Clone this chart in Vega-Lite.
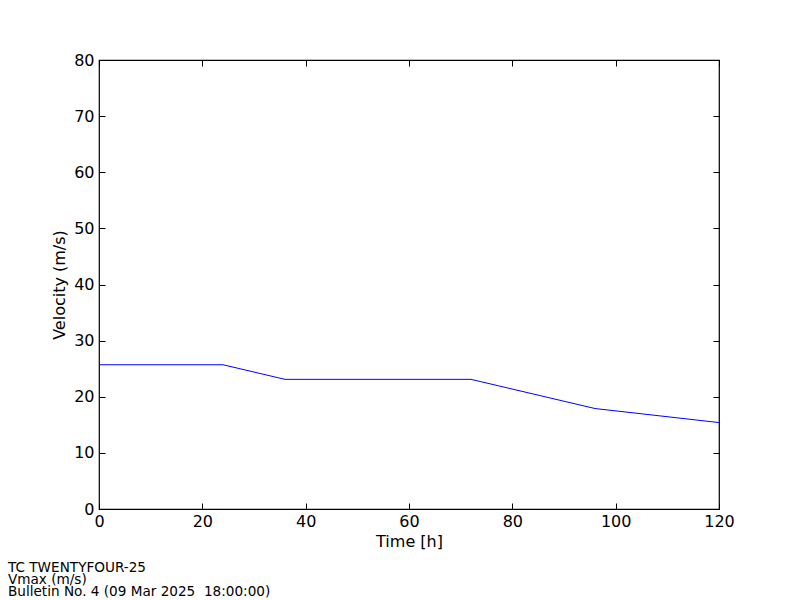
{
  "$schema": "https://vega.github.io/schema/vega-lite/v6.json",
  "width": 620,
  "height": 449,
  "autosize": {"type": "none"},
  "padding": {"left": 99, "top": 60, "right": 81, "bottom": 91},
  "background": "white",
  "config": {
    "font": "DejaVu Sans",
    "view": {"stroke": "black", "strokeWidth": 1.2},
    "axis": {
      "grid": false,
      "domain": false,
      "tickColor": "black",
      "tickSize": -6,
      "labelFlush": false,
      "labelOverlap": false,
      "labelColor": "black",
      "titleColor": "black",
      "labelFont": "DejaVu Sans",
      "titleFont": "DejaVu Sans",
      "labelFontSize": 16,
      "titleFontSize": 16,
      "titleFontWeight": "normal"
    }
  },
  "title": {
    "text": ["TC TWENTYFOUR-25", "Vmax (m/s)", "Bulletin No. 4 (09 Mar 2025\u00a0\u00a018:00:00)"],
    "orient": "bottom",
    "anchor": "start",
    "frame": "group",
    "baseline": "top",
    "dx": -91,
    "offset": 12,
    "fontSize": 13.6,
    "fontWeight": "normal",
    "font": "DejaVu Sans",
    "lineHeight": 12,
    "color": "black"
  },
  "data": {
    "values": [
      {"t": 0, "v": 25.7},
      {"t": 24, "v": 25.7},
      {"t": 36, "v": 23.1},
      {"t": 72, "v": 23.1},
      {"t": 96, "v": 17.9},
      {"t": 120, "v": 15.4}
    ]
  },
  "layer": [
    {
      "mark": {"type": "line", "color": "blue", "strokeWidth": 1},
      "encoding": {
        "x": {
          "field": "t",
          "type": "quantitative",
          "scale": {"domain": [0, 120], "nice": false},
          "axis": {"values": [0, 20, 40, 60, 80, 100, 120], "title": "Time [h]", "labelPadding": 10, "titlePadding": 4}
        },
        "y": {
          "field": "v",
          "type": "quantitative",
          "scale": {"domain": [0, 80], "nice": false},
          "axis": {"values": [0, 10, 20, 30, 40, 50, 60, 70, 80], "title": "Velocity (m/s)", "labelPadding": 11, "titlePadding": 6}
        }
      }
    },
    {
      "mark": {"type": "line", "color": "blue", "strokeWidth": 1, "strokeOpacity": 0},
      "encoding": {
        "x": {
          "field": "t",
          "type": "quantitative",
          "scale": {"domain": [0, 120], "nice": false},
          "axis": {"orient": "top", "values": [0, 20, 40, 60, 80, 100, 120], "labels": false, "title": null}
        },
        "y": {
          "field": "v",
          "type": "quantitative",
          "scale": {"domain": [0, 80], "nice": false},
          "axis": {"orient": "right", "values": [0, 10, 20, 30, 40, 50, 60, 70, 80], "labels": false, "title": null}
        }
      }
    }
  ],
  "resolve": {"axis": {"x": "independent", "y": "independent"}}
}
